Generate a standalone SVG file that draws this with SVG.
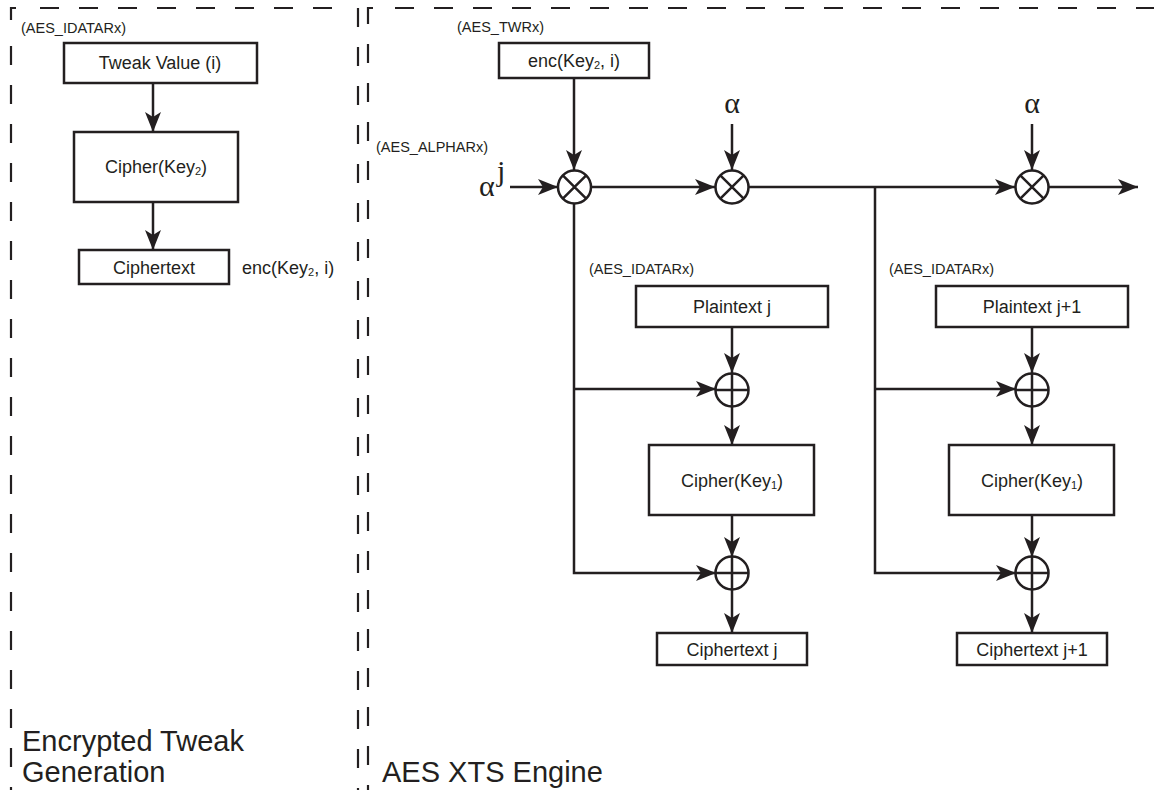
<svg xmlns="http://www.w3.org/2000/svg" width="1154" height="790" viewBox="0 0 1154 790">
<style>
.box{fill:#fff;stroke:#231f20;stroke-width:2.5}
.bt{font-family:"Liberation Sans",Arial,sans-serif;font-size:18px;fill:#231f20;text-anchor:middle}
.lbl{font-family:"Liberation Sans",Arial,sans-serif;font-size:14.5px;fill:#231f20}
.title{font-family:"Liberation Sans",Arial,sans-serif;font-size:29px;fill:#231f20}
.gr{font-family:"Liberation Serif","Times New Roman",serif;font-size:30px;fill:#231f20}
.ln{fill:none;stroke:#231f20;stroke-width:2.5}
.arr{fill:none;stroke:#231f20;stroke-width:2.5;marker-end:url(#ah)}
.op{fill:#fff;stroke:#231f20;stroke-width:2.5}
.dash{fill:none;stroke:#231f20;stroke-width:2.2;stroke-dasharray:19 20}
</style>
<defs>
<marker id="ah" markerUnits="userSpaceOnUse" markerWidth="22" markerHeight="18" refX="20" refY="8" orient="auto">
<path d="M0,0 L20,8 L0,16 L5,8 z" fill="#231f20"/>
</marker>
</defs>
<rect width="1154" height="790" fill="#fff"/>
<g id="borders">
<path class="ln" d="M11,20 L11,8 L16,8" style="stroke-width:2.2"/>
<line class="dash" x1="11" y1="46" x2="11" y2="790"/>
<line class="dash" x1="40" y1="8" x2="340" y2="8"/>
<line class="dash" x1="358" y1="8" x2="358" y2="790"/>
<path class="ln" d="M368,24 L368,8 L373,8" style="stroke-width:2.2"/>
<line class="dash" x1="368" y1="44" x2="368" y2="790"/>
<line class="dash" x1="395" y1="8" x2="1154" y2="8"/>
</g>
<g id="titles">
<text class="title" x="22" y="751">Encrypted Tweak</text>
<text class="title" x="22" y="782">Generation</text>
<text class="title" x="382" y="782">AES XTS Engine</text>
</g>
<g id="connectors">
<line class="arr" x1="153" y1="83" x2="153" y2="132"/>
<line class="arr" x1="153" y1="202" x2="153" y2="250"/>
<line class="arr" x1="574" y1="78" x2="574" y2="170"/>
<line class="arr" x1="732" y1="124" x2="732" y2="170"/>
<line class="arr" x1="1032" y1="124" x2="1032" y2="170"/>
<line class="arr" x1="510" y1="187" x2="558" y2="187"/>
<line class="arr" x1="591" y1="187" x2="715" y2="187"/>
<line class="arr" x1="748" y1="187" x2="1015" y2="187"/>
<line class="arr" x1="1048" y1="187" x2="1138" y2="187"/>
<path class="arr" d="M574,203 L574,573 L716,573"/>
<line class="arr" x1="574" y1="389" x2="716" y2="389"/>
<path class="arr" d="M875,187 L875,573 L1016,573"/>
<line class="arr" x1="875" y1="389" x2="1016" y2="389"/>
<line class="arr" x1="732" y1="327" x2="732" y2="373"/>
<line class="arr" x1="732" y1="406" x2="732" y2="445"/>
<line class="arr" x1="732" y1="515" x2="732" y2="557"/>
<line class="arr" x1="732" y1="590" x2="732" y2="633"/>
<line class="arr" x1="1032" y1="327" x2="1032" y2="373"/>
<line class="arr" x1="1032" y1="406" x2="1032" y2="445"/>
<line class="arr" x1="1032" y1="515" x2="1032" y2="557"/>
<line class="arr" x1="1032" y1="590" x2="1032" y2="633"/>
</g>
<g id="lbl-idatar-left"><text class="lbl" x="21" y="33">(AES_IDATARx)</text></g>
<g id="tweak"><rect class="box" x="64" y="43" width="193" height="40"/><text class="bt" x="160" y="69">Tweak Value (i)</text></g>
<g id="cipher2"><rect class="box" x="74" y="132" width="164" height="70"/><text class="bt" x="156" y="173">Cipher(Key<tspan font-size="11" dy="2">2</tspan><tspan dy="-2">)</tspan></text></g>
<g id="ciphertext-left"><rect class="box" x="79" y="250" width="150" height="34"/><text class="bt" x="154" y="274">Ciphertext</text></g>
<g id="enc-label"><text class="bt" x="242" y="274" style="text-anchor:start">enc(Key<tspan font-size="11" dy="2">2</tspan><tspan dy="-2">, i)</tspan></text></g>
<g id="lbl-twr"><text class="lbl" x="457" y="32">(AES_TWRx)</text></g>
<g id="enc"><rect class="box" x="499" y="43" width="150" height="35"/><text class="bt" x="574" y="67">enc(Key<tspan font-size="11" dy="2">2</tspan><tspan dy="-2">, i)</tspan></text></g>
<g id="lbl-alphar"><text class="lbl" x="376" y="152">(AES_ALPHARx)</text></g>
<g id="alpha-j"><text class="gr" x="479" y="196">α</text><text class="gr" x="497" y="181" font-size="15">j</text></g>
<g id="alpha1"><text class="gr" x="732" y="113" text-anchor="middle">α</text></g>
<g id="alpha2"><text class="gr" x="1032" y="113" text-anchor="middle">α</text></g>
<g id="mul1"><circle class="op" cx="574.5" cy="187" r="16.5"/><path class="ln" d="M562.8,175.3 L586.2,198.7 M586.2,175.3 L562.8,198.7"/></g>
<g id="mul2"><circle class="op" cx="732" cy="187" r="16.5"/><path class="ln" d="M720.3,175.3 L743.7,198.7 M743.7,175.3 L720.3,198.7"/></g>
<g id="mul3"><circle class="op" cx="1032" cy="187" r="16.5"/><path class="ln" d="M1020.3,175.3 L1043.7,198.7 M1043.7,175.3 L1020.3,198.7"/></g>
<g id="lbl-idatar-j"><text class="lbl" x="589" y="274">(AES_IDATARx)</text></g>
<g id="plain-j"><rect class="box" x="636" y="286" width="192" height="41"/><text class="bt" x="732" y="313">Plaintext j</text></g>
<g id="xor-j1"><circle class="op" cx="732" cy="390" r="16.5"/><path class="ln" d="M732,373.5 V406.5 M715.5,390 H748.5"/></g>
<g id="cipher1-j"><rect class="box" x="649" y="445" width="165" height="70"/><text class="bt" x="732" y="487">Cipher(Key<tspan font-size="11" dy="2">1</tspan><tspan dy="-2">)</tspan></text></g>
<g id="xor-j2"><circle class="op" cx="732" cy="573" r="16.5"/><path class="ln" d="M732,556.5 V589.5 M715.5,573 H748.5"/></g>
<g id="ct-j"><rect class="box" x="657" y="633" width="150" height="32"/><text class="bt" x="732" y="656">Ciphertext j</text></g>
<g id="lbl-idatar-j1"><text class="lbl" x="889" y="274">(AES_IDATARx)</text></g>
<g id="plain-j1"><rect class="box" x="936" y="286" width="192" height="41"/><text class="bt" x="1032" y="313">Plaintext j+1</text></g>
<g id="xor-k1"><circle class="op" cx="1032" cy="390" r="16.5"/><path class="ln" d="M1032,373.5 V406.5 M1015.5,390 H1048.5"/></g>
<g id="cipher1-j1"><rect class="box" x="949" y="445" width="165" height="70"/><text class="bt" x="1032" y="487">Cipher(Key<tspan font-size="11" dy="2">1</tspan><tspan dy="-2">)</tspan></text></g>
<g id="xor-k2"><circle class="op" cx="1032" cy="573" r="16.5"/><path class="ln" d="M1032,556.5 V589.5 M1015.5,573 H1048.5"/></g>
<g id="ct-j1"><rect class="box" x="957" y="633" width="150" height="32"/><text class="bt" x="1032" y="656">Ciphertext j+1</text></g>
</svg>
